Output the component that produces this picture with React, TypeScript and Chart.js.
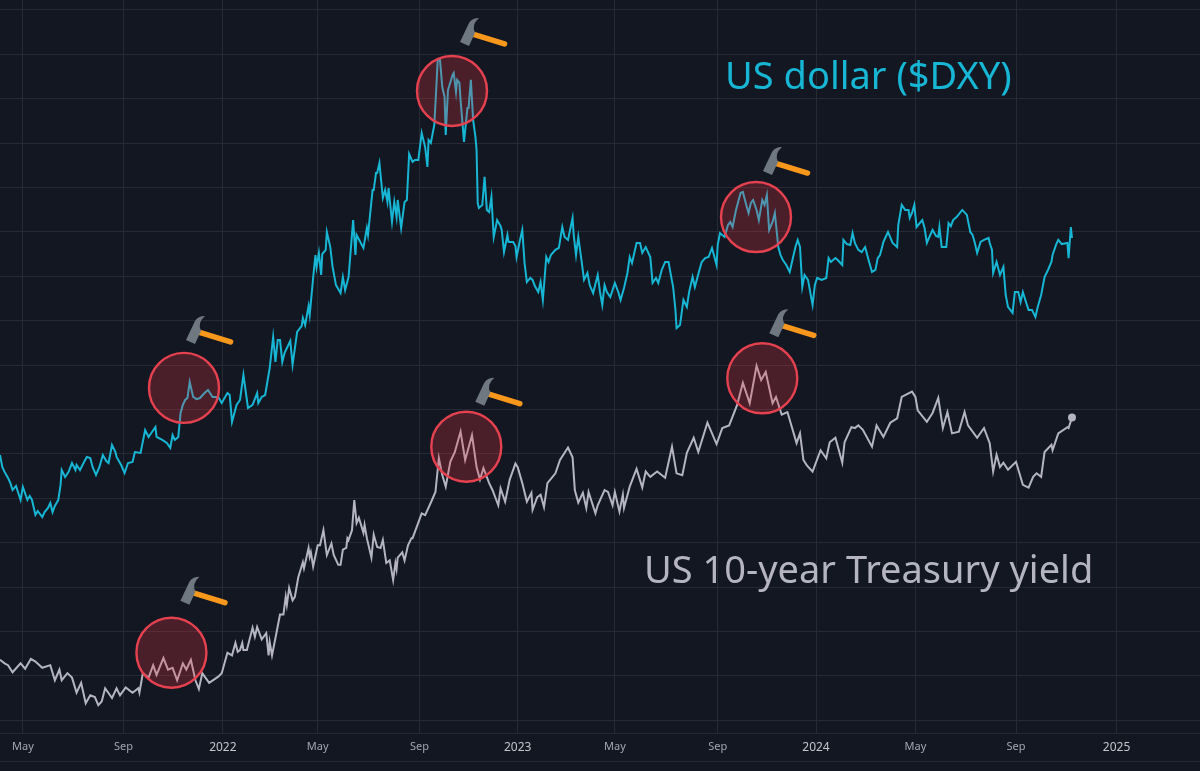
import { useEffect, useRef } from "react";
import Chart from "chart.js/auto";

// x is the trading session counted from the left edge of the picture
const dxySessions = [0,2,4,7,9,11,14,18,20,24,26,28,31,33,37,39,42,44,46,48,51,53,54,57,60,63,66,67,70,74,76,79,81,84,87,90,93,95,98,101,102,106,109,112,116,118,123,127,130,133,136,137,142,146,149,151,153,156,158,160,162,164,166,169,172,175,179,182,186,191,194,199,201,203,207,210,213,217,221,225,226,229,232,236,239,241,243,245,247,249,254,256,260,264,265,267,270,271,274,276,277,279,281,282,285,286,289,291,294,298,300,302,305,309,311,312,318,321,322,326,327,329,330,332,335,337,339,340,343,345,347,348,351,354,356,358,361,363,366,369,372,374,375,377,380,382,383,385,387,389,390,392,396,397,399,400,402,403,406,409,410,412,414,416,417,418,419,422,424,426,428,430,432,435,438,439,441,444,445,449,451,452,455,457,459,461,464,466,468,471,473,475,478,480,482,486,489,492,494,497,501,502,504,506,509,511,514,516,519,523,525,527,529,531,534,538,541,543,546,549,551,553,557,560,562,565,569,571,574,576,579,582,585,587,589,591,592,595,598,601,603,606,608,612,614,617,620,623,627,628,630,634,637,639,641,644,648,650,653,655,657,659,662,664,667,669,671,673,676,678,681,683,685,688,691,696,698,700,702,704,707,711,713,715,719,723,725,727,731,733,737,738,741,744,746,748,751,754,757,760,763,766,768,770,773,777,781,785,786,789,792,795,796,798,800,802,807,809,811,814,816,819,821,822,824,828,830,832,834,837,842,846,849,851,853,855,858,861,865,866,868,869,872,875,878,880,882,886,888,891,893,895,898,900,903,906,908,911,914,917,920,921,924,926,929,934,935,937,938];
const dxyValues = [92.44,91.77,91.49,91.15,90.87,90.47,90.70,89.91,90.64,89.91,90.13,89.91,89.07,89.29,88.95,89.23,89.46,89.74,89.23,89.57,89.91,90.76,91.60,91.20,91.49,91.99,91.60,91.88,91.60,92.10,92.33,92.27,91.77,91.32,91.77,92.44,92.10,91.99,93.01,92.61,92.33,91.88,91.43,91.99,92.05,92.61,92.56,93.85,93.46,93.74,94.02,93.46,93.29,93.12,92.84,93.57,93.29,93.46,94.81,95.26,95.54,95.65,96.55,95.71,95.59,95.65,95.93,96.10,95.71,95.71,95.37,95.93,95.82,94.30,95.26,95.54,96.95,95.09,95.26,95.93,95.37,95.71,95.82,97.34,99.09,97.68,98.92,98.92,97.68,98.19,98.86,97.51,99.37,99.71,100.16,99.76,100.83,100.33,102.41,103.70,103.03,103.82,102.58,103.76,103.99,105.00,104.15,103.03,102.01,101.56,102.46,101.73,102.46,105.67,103.70,104.83,104.10,105.22,104.83,107.36,107.36,108.32,108.32,108.88,106.91,107.36,106.69,107.47,105.56,106.69,105.84,106.80,105.22,106.69,106.80,109.39,108.94,109.05,109.05,110.57,109.78,108.66,110.18,110.01,111.02,113.39,114.68,114.68,113.16,112.60,110.46,112.99,113.84,113.95,112.88,113.56,113.39,112.43,110.07,111.98,111.98,113.56,111.30,110.35,109.62,106.63,106.35,106.52,108.10,106.24,106.12,106.97,104.72,105.67,105.33,105.11,103.87,104.83,104.43,104.43,104.21,103.59,104.55,105.11,103.25,102.18,102.41,102.30,101.96,101.62,102.18,101.17,103.59,103.31,103.70,103.99,104.10,105.28,104.72,104.55,105.79,104.83,103.70,104.72,103.31,102.30,102.69,102.01,101.56,102.58,101.62,100.89,102.01,101.62,101.34,102.13,101.62,101.17,101.85,102.69,103.59,103.25,104.38,104.38,103.82,104.15,103.59,102.13,102.41,102.13,102.86,103.31,103.31,102.58,101.90,100.61,99.59,99.76,101.17,100.78,101.62,102.46,101.90,102.86,103.31,103.53,103.59,104.10,103.14,104.27,104.94,104.72,105.39,105.56,105.28,106.24,107.19,107.25,106.52,106.07,106.63,106.80,106.24,105.67,106.80,106.52,107.08,105.11,105.56,106.07,104.15,103.70,103.42,103.14,102.75,104.15,104.55,104.15,101.90,102.58,102.30,100.89,102.01,102.41,102.30,102.41,103.53,103.31,103.53,103.42,103.14,104.55,104.32,104.27,104.94,104.38,103.99,103.87,104.15,103.42,102.75,102.86,103.53,103.70,104.44,105.00,104.38,104.15,105.39,106.52,106.24,106.24,105.79,106.07,106.52,105.28,105.67,105.22,104.38,104.83,105.11,104.77,104.72,105.28,104.15,104.15,105.50,105.33,105.67,105.84,106.24,105.96,105.00,104.83,104.38,103.82,104.44,104.55,104.66,104.38,103.99,102.69,103.31,102.58,103.03,101.45,100.78,100.44,101.62,101.62,101.06,101.62,101.00,100.61,100.61,100.21,100.78,101.45,102.46,102.86,103.31,103.70,104.27,104.55,104.32,104.38,103.53,105.28,104.66];

const yieldSessions = [0,4,7,11,18,22,27,31,37,44,48,52,54,59,63,67,71,75,79,83,86,89,92,98,102,105,110,116,121,122,125,130,134,137,143,147,151,155,160,163,167,171,174,177,183,191,194,199,203,206,208,210,212,213,216,221,223,225,229,233,235,236,238,242,245,248,250,251,253,256,258,261,265,266,270,271,272,274,278,280,283,286,290,292,296,298,300,303,304,305,308,310,312,314,318,319,321,325,327,330,333,335,338,341,344,346,347,348,352,354,357,360,361,369,372,378,381,384,387,390,394,398,403,407,413,417,420,423,428,431,436,438,442,446,451,453,457,461,465,466,470,473,476,479,486,490,497,501,503,506,510,513,515,521,523,529,532,536,538,542,545,546,551,557,562,565,569,575,582,588,592,597,601,607,611,619,627,632,638,645,650,656,662,666,670,676,679,684,689,697,700,703,706,711,718,723,726,731,737,739,745,748,751,755,763,767,773,779,785,789,798,801,803,811,816,821,825,829,833,839,844,847,855,861,866,869,872,875,878,882,889,895,900,904,907,911,914,920,921,926,934,935,938];
const yieldValues = [1.68,1.64,1.62,1.54,1.64,1.58,1.69,1.66,1.59,1.62,1.45,1.57,1.45,1.53,1.48,1.31,1.42,1.19,1.28,1.26,1.17,1.21,1.36,1.25,1.36,1.28,1.37,1.31,1.36,1.31,1.53,1.48,1.62,1.51,1.70,1.57,1.59,1.45,1.64,1.57,1.68,1.45,1.35,1.53,1.42,1.49,1.53,1.76,1.73,1.87,1.77,1.79,1.87,1.79,1.79,2.04,1.94,2.05,1.91,1.98,1.73,1.88,1.73,1.99,2.19,2.19,2.39,2.30,2.49,2.35,2.39,2.61,2.78,2.71,2.94,2.84,2.89,2.73,2.97,2.97,3.14,2.86,2.99,2.86,2.75,2.75,2.92,2.94,3.05,3.03,3.14,3.48,3.22,3.28,3.11,3.20,3.05,2.83,3.09,2.95,2.94,3.03,2.77,2.80,2.58,2.77,2.70,2.83,2.89,2.80,2.97,3.05,3.05,3.33,3.31,3.48,3.57,3.95,3.76,3.63,3.91,4.02,4.25,3.93,4.21,3.85,3.71,3.84,3.67,3.59,3.42,3.61,3.46,3.71,3.89,3.85,3.67,3.46,3.56,3.37,3.51,3.54,3.40,3.67,3.78,3.93,4.07,3.96,3.59,3.45,3.56,3.39,3.57,3.33,3.42,3.59,3.57,3.42,3.57,3.35,3.54,3.39,3.63,3.83,3.62,3.80,3.74,3.80,3.73,4.08,3.78,3.76,4.01,4.18,4.02,4.35,4.11,4.29,4.32,4.55,4.80,4.57,4.99,4.83,4.92,4.57,4.64,4.44,4.47,4.12,4.23,3.93,3.87,3.80,4.04,3.95,4.13,4.18,3.90,4.13,4.30,4.29,4.32,4.27,4.08,4.32,4.19,4.35,4.40,4.64,4.70,4.64,4.49,4.36,4.46,4.63,4.29,4.47,4.23,4.25,4.47,4.32,4.18,4.29,4.12,3.80,3.99,3.85,3.90,3.82,3.91,3.65,3.62,3.74,3.78,3.74,4.02,4.10,4.04,4.23,4.30,4.29,4.41];

const tickSessions = [20,108,195,278,367,453,538,628,714,801,889,977];
const tickLabels = ["May","Sep","2022","May","Sep","2023","May","Sep","2024","May","Sep","2025"];
const gridLevels = [117.5,115,112.5,110,107.5,105,102.5,100,97.5,95,92.5,90,87.5,85,82.5,80,77.5];

// peak zones, each with the hammer that sits above it
const peakZones = [
  { session: 161, level: 96.22, axis: "yDxy", hammerX: 49, hammerY: -45 },
  { session: 395.5, level: 112.94, axis: "yDxy", hammerX: 55, hammerY: -46 },
  { session: 661.5, level: 105.84, axis: "yDxy", hammerX: 54, hammerY: -43 },
  { session: 150, level: 1.76, axis: "yYield", hammerX: 56, hammerY: -49 },
  { session: 408, level: 4.08, axis: "yYield", hammerX: 56, hammerY: -42 },
  { session: 667, level: 4.85, axis: "yYield", hammerX: 54, hammerY: -42 },
];

const BACKGROUND = "#131722";
const GRID = "#262a35";
const CYAN = "#17b6d4";
const GREY = "#b4b5c0";

const drawHammer = (ctx: CanvasRenderingContext2D, x: number, y: number) => {
  ctx.save();
  ctx.translate(x, y);
  ctx.strokeStyle = "#f7981d";
  ctx.lineWidth = 5.5;
  ctx.lineCap = "round";
  ctx.beginPath();
  ctx.moveTo(-35, -11);
  ctx.lineTo(-2.5, -1);
  ctx.stroke();
  ctx.fillStyle = "#6f7881";
  ctx.beginPath();
  ctx.moveTo(-28, -27);
  ctx.quadraticCurveTo(-35, -27, -38, -22);
  ctx.lineTo(-47, -3);
  ctx.lineTo(-38, 1);
  ctx.lineTo(-32, -12);
  ctx.quadraticCurveTo(-36, -20, -28, -27);
  ctx.fill();
  ctx.restore();
};

const backdrop = {
  id: "backdrop",
  beforeDraw(chart: Chart) {
    const { ctx, width, chartArea } = chart;
    ctx.save();
    ctx.fillStyle = BACKGROUND;
    ctx.fillRect(0, 0, width, chart.height);
    ctx.strokeStyle = GRID;
    ctx.lineWidth = 1;
    ctx.beginPath();
    ctx.moveTo(0, chartArea.bottom + 28.5);
    ctx.lineTo(width, chartArea.bottom + 28.5);
    ctx.stroke();
    ctx.restore();
  },
};

const annotations = {
  id: "annotations",
  afterDatasetsDraw(chart: Chart) {
    const { ctx, scales } = chart;
    ctx.save();
    peakZones.forEach((zone) => {
      const x = scales.x.getPixelForValue(zone.session);
      const y = scales[zone.axis].getPixelForValue(zone.level);
      ctx.beginPath();
      ctx.arc(x, y, 35, 0, Math.PI * 2);
      ctx.fillStyle = "rgba(242, 54, 69, 0.25)";
      ctx.fill();
      ctx.strokeStyle = "#e5414f";
      ctx.lineWidth = 2.4;
      ctx.stroke();
      drawHammer(ctx, x + zone.hammerX, y + zone.hammerY);
    });
    ctx.textAlign = "left";
    ctx.textBaseline = "alphabetic";
    ctx.font = '38px "Noto Sans"';
    ctx.fillStyle = CYAN;
    ctx.fillText("US dollar ($DXY)", 725, 89);
    ctx.fillStyle = GREY;
    ctx.fillText("US 10-year Treasury yield", 644, 583);
    ctx.restore();
  },
};

const App = () => {
  const chartRef = useRef<HTMLCanvasElement>(null);

  useEffect(() => {
    if (!chartRef.current) return;
    const chart = new Chart(chartRef.current, {
      type: "line",
      data: {
        datasets: [
          {
            label: "US dollar ($DXY)",
            data: dxySessions.map((s, i) => ({ x: s, y: dxyValues[i] })),
            yAxisID: "yDxy",
            borderColor: CYAN,
            borderWidth: 2,
            pointRadius: 0,
            tension: 0,
          },
          {
            label: "US 10-year Treasury yield",
            data: yieldSessions.map((s, i) => ({ x: s, y: yieldValues[i] })),
            yAxisID: "yYield",
            borderColor: GREY,
            backgroundColor: GREY,
            borderWidth: 2,
            pointRadius: (c: any) => (c.dataIndex === yieldValues.length - 1 ? 3 : 0),
            tension: 0,
          },
        ],
      },
      options: {
        animation: false,
        responsive: false,
        devicePixelRatio: 1,
        layout: { padding: 0, autoPadding: false },
        plugins: { legend: { display: false }, tooltip: { enabled: false } },
        scales: {
          x: {
            type: "linear",
            min: 0,
            max: 1050,
            afterBuildTicks: (scale: any) => {
              scale.ticks = tickSessions.map((value) => ({ value }));
            },
            afterFit: (scale: any) => {
              scale.height = 38;
            },
            grid: { color: GRID, drawTicks: false },
            border: { color: GRID },
            ticks: {
              autoSkip: false,
              maxRotation: 0,
              padding: 7,
              color: (c: any) => (c.index % 3 === 2 ? "#c4c6cc" : "#a3a6af"),
              font: (c: any) => ({ family: "Noto Sans", size: c.index % 3 === 2 ? 12 : 11 }),
              callback: (_v: any, i: number) => tickLabels[i],
            },
          },
          yDxy: {
            type: "linear",
            position: "left",
            min: 76.79,
            max: 118.06,
            afterBuildTicks: (scale: any) => {
              scale.ticks = gridLevels.map((value) => ({ value }));
            },
            afterFit: (scale: any) => {
              scale.width = 0;
            },
            grid: { color: GRID, drawTicks: false },
            border: { display: false },
            ticks: { display: false },
          },
          yYield: { type: "linear", display: false, min: 0.856, max: 9.11 },
        },
      },
      plugins: [backdrop, annotations],
    });
    return () => chart.destroy();
  }, []);

  return (
    <div style={{ position: "absolute", left: 0, top: 0 }}>
      <canvas ref={chartRef} width={1200} height={771} style={{ display: "block" }} />
    </div>
  );
};

export default App;
